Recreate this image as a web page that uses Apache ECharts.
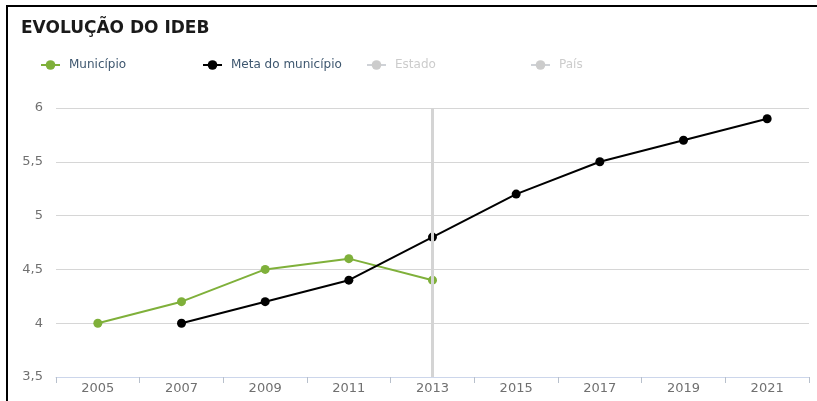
<!DOCTYPE html>
<html>
<head>
<meta charset="utf-8">
<title>Evolução do IDEB</title>
<script src="https://cdn.jsdelivr.net/npm/echarts@6/dist/echarts.min.js"></script>
<style>
  html, body { margin: 0; padding: 0; background: #fff; }
  #chart { width: 817px; height: 401px; }
</style>
</head>
<body>
<div id="chart"></div>
<script>
// Anos avaliados (eixo X)
const anos = ['2005', '2007', '2009', '2011', '2013', '2015', '2017', '2019', '2021'];
// IDEB observado no município
const municipio = [4.0, 4.2, 4.5, 4.6, 4.4, null, null, null, null];
// Meta projetada para o município
const metaMunicipio = [null, 4.0, 4.2, 4.4, 4.8, 5.2, 5.5, 5.7, 5.9];
// Séries ocultas na legenda
const estado = [];
const pais = [];
// Escala do eixo Y
const yMin = 3.5, yMax = 6, yPasso = 0.5;
// Ano destacado pela linha vertical
const anoDestaque = '2013';

const fonte = 'DejaVu Sans';
const corVerde = '#7fb03a';
const corPreta = '#000000';

const chart = echarts.init(document.getElementById('chart'), null, { renderer: 'canvas' });

function legenda(nome, left) {
  return {
    data: [nome],
    left: left,
    top: 54,
    itemWidth: 19,
    itemHeight: 12,
    inactiveColor: '#cccccc',
    selectedMode: true,
    selected: { 'Estado': false, 'País': false },
    textStyle: { fontFamily: fonte, fontSize: 12, color: '#3e576f', padding: [0, 0, 0, 4] }
  };
}

chart.setOption({
  animation: false,
  backgroundColor: '#ffffff',
  title: {
    text: 'EVOLUÇÃO DO IDEB',
    left: 21,
    top: 20,
    padding: 0,
    textStyle: { fontFamily: fonte, fontSize: 17, fontWeight: 'bold', color: '#1a1a1a' }
  },
  legend: [
    legenda('Município', 35),
    legenda('Meta do município', 197),
    legenda('Estado', 361),
    legenda('País', 525)
  ],
  grid: { left: 56, right: 8, top: 108, bottom: 24, containLabel: false },
  xAxis: {
    type: 'category',
    data: anos,
    boundaryGap: true,
    axisLine: { lineStyle: { color: '#ccd6eb', width: 1 } },
    axisTick: { show: true, length: 6, lineStyle: { color: '#b8c0cc' } },
    axisLabel: { fontFamily: fonte, fontSize: 13, color: '#707070', margin: 5 },
    splitLine: { show: false }
  },
  yAxis: {
    type: 'value',
    min: yMin,
    max: yMax,
    interval: yPasso,
    axisLine: { show: false },
    axisTick: { show: false },
    axisLabel: {
      fontFamily: fonte, fontSize: 13, color: '#707070', margin: 13,
      formatter: v => String(v).replace('.', ',')
    },
    splitLine: { lineStyle: { color: '#d6d6d6', width: 1 } }
  },
  graphic: [
    { type: 'rect', shape: { x: 6, y: 5, width: 811, height: 2 }, style: { fill: '#000' }, z: 100 },
    { type: 'rect', shape: { x: 6, y: 5, width: 2, height: 396 }, style: { fill: '#000' }, z: 100 }
  ],
  series: [
    {
      name: '_destaque',
      type: 'line',
      data: [],
      z: 1,
      silent: true,
      markLine: {
        silent: true,
        symbol: 'none',
        label: { show: false },
        lineStyle: { color: '#d4d4d4', width: 3, type: 'solid' },
        data: [{ xAxis: anoDestaque }]
      }
    },
    {
      name: 'Município',
      type: 'line',
      data: municipio,
      z: 3,
      symbol: 'circle',
      symbolSize: 9,
      connectNulls: false,
      itemStyle: { color: corVerde },
      lineStyle: { color: corVerde, width: 2 }
    },
    {
      name: 'Meta do município',
      type: 'line',
      data: metaMunicipio,
      z: 4,
      symbol: 'circle',
      symbolSize: 9,
      itemStyle: { color: corPreta },
      lineStyle: { color: corPreta, width: 2 }
    },
    {
      name: 'Estado',
      type: 'line',
      data: estado,
      symbol: 'circle',
      symbolSize: 9,
      itemStyle: { color: '#999999' },
      lineStyle: { color: '#999999', width: 2 }
    },
    {
      name: 'País',
      type: 'line',
      data: pais,
      symbol: 'circle',
      symbolSize: 9,
      itemStyle: { color: '#999999' },
      lineStyle: { color: '#999999', width: 2 }
    }
  ]
});
</script>
</body>
</html>
